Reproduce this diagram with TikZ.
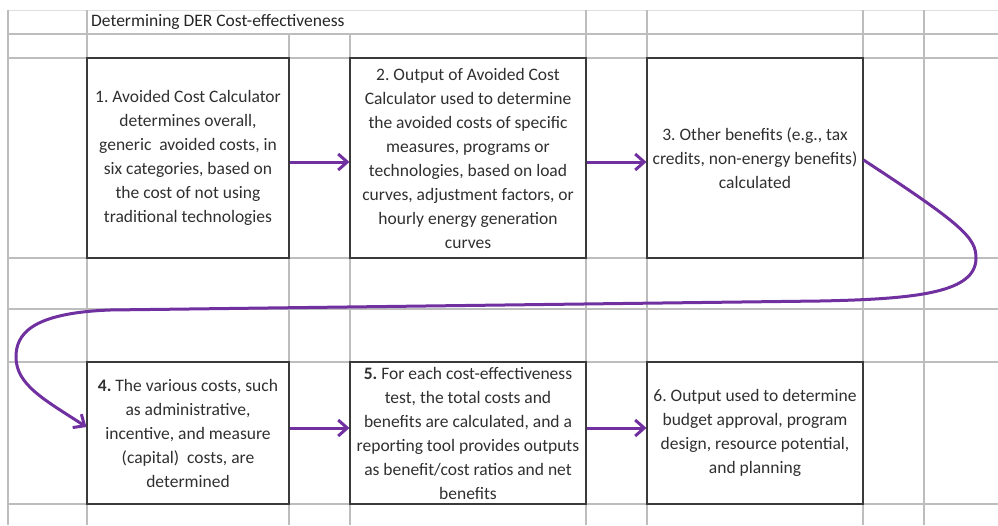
\documentclass[tikz,border=0pt]{standalone}
\usepackage{fontspec}
\setmainfont{Carlito}
\usetikzlibrary{arrows.meta}
\definecolor{flowpurple}{HTML}{7030A0}
\definecolor{gridgray}{HTML}{BDBDBD}
\definecolor{boxline}{HTML}{3A3A3A}
\definecolor{textgray}{HTML}{303030}

\begin{document}
\begin{tikzpicture}[x=1pt,y=-1pt,
  grid/.style={draw=gridgray,line width=1.1pt},
  box/.style={draw=boxline,fill=white,line width=1.1pt,inner sep=0pt,align=center,
    text=textgray,font=\fontsize{17.5}{24}\selectfont\frenchspacing},
  flow/.style={draw=flowpurple,line width=3pt,-{Straight Barb[length=9pt,width=16pt]}}]
\useasboundingbox (0,0) rectangle (998,525);

% spreadsheet grid
\draw[draw=gridgray!50,line width=1pt] (8,10) -- (998,10);
\foreach \y in {34,58,258,309,362,504}
  \draw[grid] (8,\y) -- (998,\y);
\foreach \x in {8,87,586,647,863,924}
  \draw[grid] (\x,10) -- (\x,525);
\foreach \x in {289,350}
  \draw[grid] (\x,34) -- (\x,525);

\node[anchor=west,inner sep=0pt,text=black!85,font=\fontsize{17.5}{24}\selectfont] (title) at (91,22) {Determining DER Cost-effectiveness};

\node[box,minimum width=202pt,minimum height=200pt] (1) at (188,158) {1. Avoided Cost Calculator\\ determines overall,\\ generic\ \ avoided costs, in\\ six categories, based on\\ the cost of not using\\ traditional technologies};
\node[box,minimum width=236pt,minimum height=200pt] (2) at (468,158) {2. Output of Avoided Cost\\ Calculator used to determine\\ the avoided costs of specific\\ measures, programs or\\ technologies, based on load\\ curves, adjustment factors, or\\ hourly energy generation\\ curves};
\node[box,minimum width=216pt,minimum height=200pt] (3) at (755,158) {3. Other benefits (e.g., tax\\ credits, non-energy benefits)\\ calculated};
\node[box,minimum width=202pt,minimum height=142pt] (4) at (188,433) {\textbf{4.} The various costs, such\\ as administrative,\\ incentive, and measure\\ (capital)\ \ costs, are\\ determined};
\node[box,minimum width=236pt,minimum height=142pt] (5) at (468,433) {\textbf{5.} For each cost-effectiveness\\ test, the total costs and\\ benefits are calculated, and a\\ reporting tool provides outputs\\ as benefit/cost ratios and net\\ benefits};
\node[box,minimum width=216pt,minimum height=142pt] (6) at (755,433) {6. Output used to determine\\ budget approval, program\\ design, resource potential,\\ and planning};

\path[flow] ([yshift=-4pt]1.east) -- ([yshift=-4pt]2.west);
\path[flow] ([yshift=-4pt]2.east) -- ([yshift=-4pt]3.west);
\path[flow] ([yshift=5pt]4.east) -- ([yshift=5pt]5.west);
\path[flow] ([yshift=5pt]5.east) -- ([yshift=5pt]6.west);

% wrap from step 3 to step 4
\path[flow] ([yshift=-2pt]3.east) .. controls (963,225) and (976,238) .. (976,258)
  .. controls (976,292) and (920,299) .. (820,301)
  -- (110,310)
  .. controls (30,313) and (16,335) .. (16,357)
  .. controls (16,385) and (45,400) .. ([yshift=6pt]4.west);
\end{tikzpicture}
\end{document}
